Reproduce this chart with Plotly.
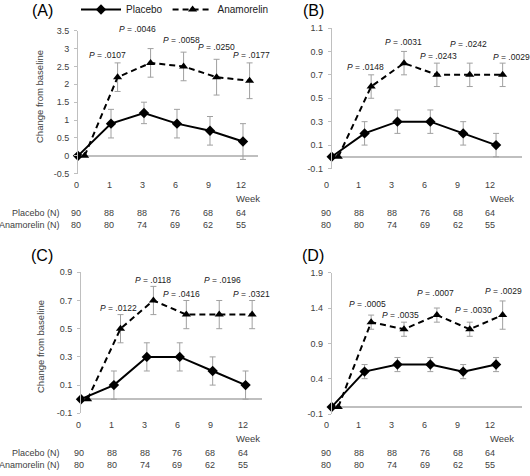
import plotly.graph_objects as go

W, H = 530, 476

# ---------------- data ----------------
weeks = ["0", "1", "3", "6", "9", "12"]
placebo_n = [90, 88, 88, 76, 68, 64]
anamorelin_n = [80, 80, 74, 69, 62, 55]

a_placebo = [0, 0.9, 1.2, 0.9, 0.7, 0.4]
a_placebo_err = [None, 0.4, 0.3, 0.4, 0.4, 0.5]
a_anam = [0, 2.2, 2.6, 2.5, 2.2, 2.1]
a_anam_err = [None, 0.4, 0.4, 0.4, 0.5, 0.5]
a_pvals = [".0107", ".0046", ".0058", ".0250", ".0177"]

b_placebo = [0, 0.2, 0.3, 0.3, 0.2, 0.1]
b_placebo_err = [None, 0.1, 0.1, 0.1, 0.1, 0.1]
b_anam = [0, 0.6, 0.8, 0.7, 0.7, 0.7]
b_anam_err = [None, 0.1, 0.1, 0.1, 0.1, 0.1]
b_pvals = [".0148", ".0031", ".0243", ".0242", ".0029"]

c_placebo = [0, 0.1, 0.3, 0.3, 0.2, 0.1]
c_placebo_err = [None, 0.1, 0.1, 0.1, 0.1, 0.1]
c_anam = [0, 0.5, 0.7, 0.6, 0.6, 0.6]
c_anam_err = [None, 0.1, 0.1, 0.1, 0.1, 0.1]
c_pvals = [".0122", ".0118", ".0416", ".0196", ".0321"]

d_placebo = [0, 0.5, 0.6, 0.6, 0.5, 0.6]
d_placebo_err = [None, 0.1, 0.1, 0.1, 0.1, 0.1]
d_anam = [0, 1.2, 1.1, 1.3, 1.1, 1.3]
d_anam_err = [None, 0.1, 0.1, 0.1, 0.1, 0.2]
d_pvals = [".0005", ".0035", ".0007", ".0030", ".0029"]

a_yticks = [-0.5, 0, 0.5, 1, 1.5, 2, 2.5, 3, 3.5]
b_yticks = [-0.1, 0.1, 0.3, 0.5, 0.7, 0.9, 1.1]
c_yticks = [-0.1, 0.1, 0.3, 0.5, 0.7, 0.9]
d_yticks = [-0.1, 0.4, 0.9, 1.4, 1.9]

# ---------------- layout (pixel geometry) ----------------
panels = [
    dict(letter="A", ax="", placebo=a_placebo, perr=a_placebo_err, anam=a_anam, aerr=a_anam_err,
         pvals=a_pvals, yticks=a_yticks,
         xdom=(78, 258), xmax=5.455, ydom=(30.7, 173.7), yr=(-0.5, 3.5),
         ppos=[(107, 55), (137, 29), (181, 40), (216, 47), (251, 55)],
         label=(42, 10), ytitle=(40, 97), tick_y=185, week=(248, 198), nrows=(213, 225),
         tshift=-0.06, rowlabel=True),
    dict(letter="B", ax="2", placebo=b_placebo, perr=b_placebo_err, anam=b_anam, aerr=b_anam_err,
         pvals=b_pvals, yticks=b_yticks,
         xdom=(331.7, 521.7), xmax=5.78, ydom=(28, 168.5), yr=(-0.1, 1.1),
         ppos=[(365, 67), (403, 42), (438, 56), (468, 44), (511, 57)],
         label=(313, 10), ytitle=None, tick_y=185, week=(502, 198), nrows=(213, 225),
         tshift=-0.17, rowlabel=False),
    dict(letter="C", ax="3", placebo=c_placebo, perr=c_placebo_err, anam=c_anam, aerr=c_anam_err,
         pvals=c_pvals, yticks=c_yticks,
         xdom=(81, 261.7), xmax=5.49, ydom=(272.3, 413.3), yr=(-0.1, 0.9),
         ppos=[(118, 308), (153, 280), (181, 294), (222, 280), (251, 294)],
         label=(42, 255), ytitle=(40, 347), tick_y=425, week=(248, 438), nrows=(453, 465),
         tshift=-0.07, rowlabel=True),
    dict(letter="D", ax="4", placebo=d_placebo, perr=d_placebo_err, anam=d_anam, aerr=d_anam_err,
         pvals=d_pvals, yticks=d_yticks,
         xdom=(331.7, 521.7), xmax=5.78, ydom=(272.7, 414), yr=(-0.1, 1.9),
         ppos=[(367, 304), (400, 315), (435, 293), (473, 310), (503, 291)],
         label=(313, 255), ytitle=None, tick_y=425, week=(502, 438), nrows=(453, 465),
         tshift=-0.17, rowlabel=False),
]

ANAM_SHIFT = 0.2
TXT = "#404040"
GREY = "#bfbfbf"
ERR = "#a0a0a0"
FONT = "Liberation Sans, Arial, sans-serif"


def px(x):
    return x / W


def py(y):
    return 1 - y / H


def fmt(v):
    return "%g" % v


def note(x, y, text, size, color=TXT, xanchor="center", **kw):
    return dict(x=px(x), y=py(y), xref="paper", yref="paper", text=text, showarrow=False,
                xanchor=xanchor, yanchor="middle",
                font=dict(size=size, color=color, family=FONT), **kw)


fig = go.Figure()
annotations = []
idx = list(range(len(weeks)))

for k, p in enumerate(panels):
    xa = "x" + p["ax"]
    ya = "y" + p["ax"]
    first = (k == 0)
    fig.add_trace(go.Scatter(
        x=idx, y=p["placebo"], xaxis=xa, yaxis=ya, name="Placebo",
        mode="lines+markers", showlegend=first, legendgroup="p",
        line=dict(color="black", width=2),
        marker=dict(symbol="diamond", size=8, color="black"),
        error_y=dict(type="data", array=p["perr"], color=ERR, thickness=1, width=3),
        cliponaxis=False))
    fig.add_trace(go.Scatter(
        x=[i + ANAM_SHIFT for i in idx], y=p["anam"], xaxis=xa, yaxis=ya, name="Anamorelin",
        mode="lines+markers", showlegend=first, legendgroup="a",
        line=dict(color="black", width=2, dash="6px,4px"),
        marker=dict(symbol="triangle-up", size=8, color="black"),
        error_y=dict(type="data", array=p["aerr"], color=ERR, thickness=1, width=3),
        cliponaxis=False))

    fig.update_layout(**{
        ("xaxis" + p["ax"]): dict(domain=[px(p["xdom"][0]), px(p["xdom"][1])],
                                  range=[0, p["xmax"]], showline=False, showgrid=False,
                                  zeroline=False, showticklabels=False, ticks="",
                                  anchor=ya, fixedrange=True),
        ("yaxis" + p["ax"]): dict(domain=[py(p["ydom"][1]), py(p["ydom"][0])],
                                  range=list(p["yr"]), showline=True, linecolor=GREY, linewidth=1,
                                  ticks="outside", ticklen=3, tickcolor=GREY, tickwidth=1,
                                  tickvals=p["yticks"], ticktext=[fmt(v) for v in p["yticks"]],
                                  tickfont=dict(size=9, color=TXT, family=FONT),
                                  showgrid=False, zeroline=True, zerolinecolor=GREY,
                                  zerolinewidth=1.5, anchor=xa, fixedrange=True,
                                  ticklabelstandoff=3),
    })

    annotations.append(note(p["label"][0], p["label"][1], "(%s)" % p["letter"], 16, "black"))
    if p["ytitle"]:
        annotations.append(note(p["ytitle"][0], p["ytitle"][1], "Change from baseline", 9.5,
                                textangle=-90))
    for (xx, yy), pv in zip(p["ppos"], p["pvals"]):
        annotations.append(note(xx, yy, "<i>P</i> = %s" % pv, 8.5, "#202020"))

    # x tick labels and N rows, placed at the category positions of the axis
    x0, x1 = p["xdom"]
    step = (x1 - x0) / p["xmax"]
    for i, wk in enumerate(weeks):
        xx = x0 + (i + p["tshift"]) * step
        annotations.append(note(xx, p["tick_y"], wk, 9))
        annotations.append(note(xx, p["nrows"][0], str(placebo_n[i]), 9))
        annotations.append(note(xx, p["nrows"][1], str(anamorelin_n[i]), 9))
    annotations.append(note(p["week"][0], p["week"][1], "Week", 9.5))
    if p["rowlabel"]:
        annotations.append(note(62, p["nrows"][0], "Placebo (N)", 9, xanchor="right"))
        annotations.append(note(62, p["nrows"][1], "Anamorelin (N)", 9, xanchor="right"))

fig.update_layout(
    width=W, height=H,
    margin=dict(l=0, r=0, t=0, b=0, autoexpand=False),
    paper_bgcolor="white", plot_bgcolor="white",
    font=dict(family=FONT, size=10, color=TXT),
    annotations=annotations,
    showlegend=True,
    hovermode=False,
    legend=dict(orientation="h", x=px(76), y=py(-5), xanchor="left", yanchor="top",
                font=dict(size=10, color="#202020", family=FONT),
                bgcolor="rgba(0,0,0,0)", itemwidth=40, tracegroupgap=0),
)

fig.write_html("out.html", config={"displayModeBar": False},
               post_script="document.body.style.margin='0';document.body.style.padding='0';")
